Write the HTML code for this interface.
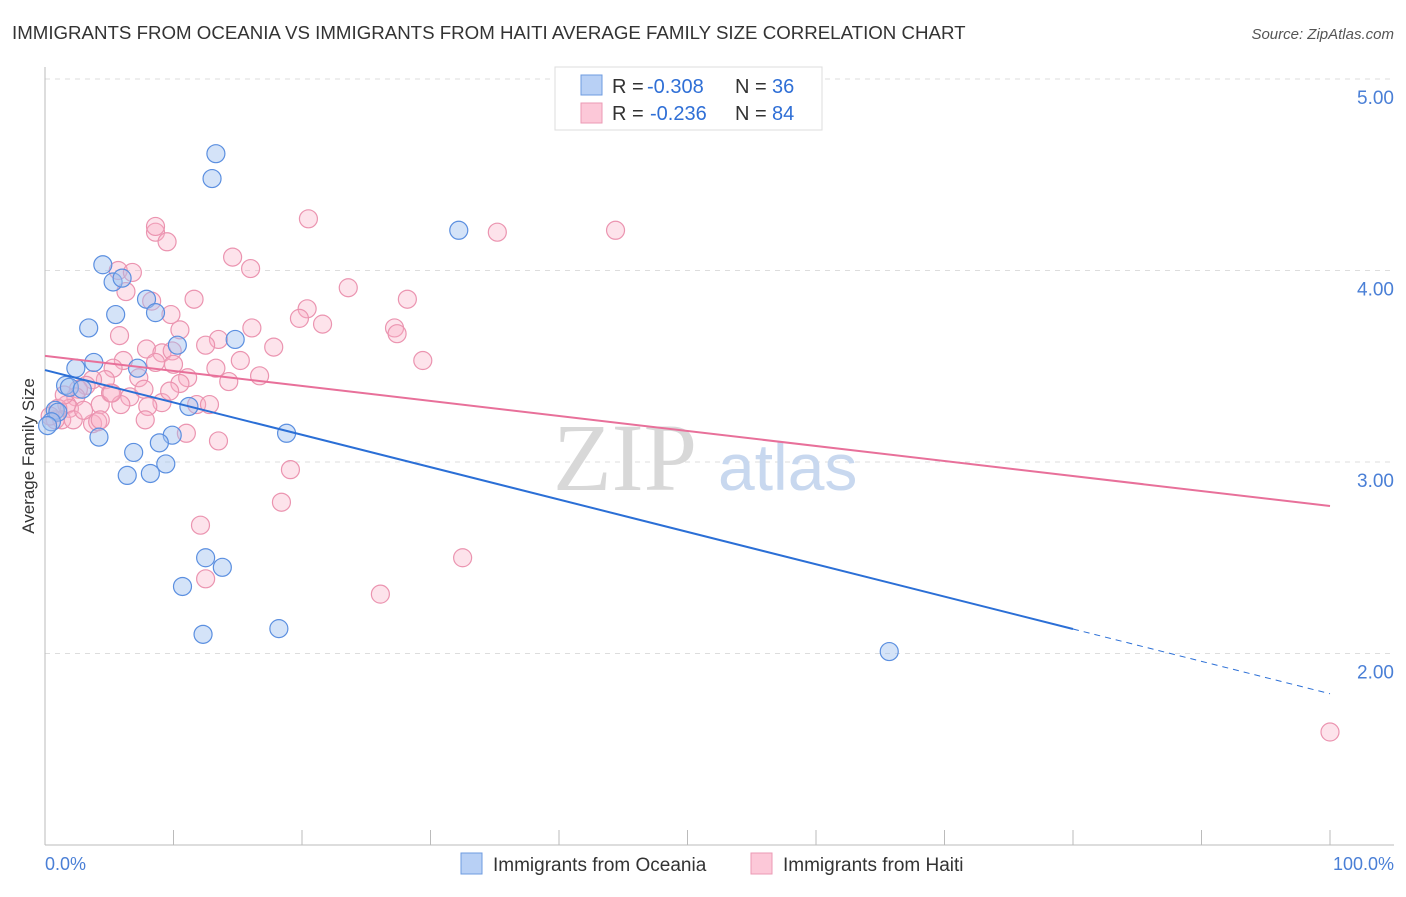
<!DOCTYPE html>
<html><head><meta charset="utf-8"><style>
body{margin:0;background:#fff;font-family:"Liberation Sans",sans-serif}
</style></head><body>
<svg id="chart" width="1406" height="892" xmlns="http://www.w3.org/2000/svg" font-family="Liberation Sans, sans-serif">
<text x="12" y="39" font-size="18.7" fill="#333">IMMIGRANTS FROM OCEANIA VS IMMIGRANTS FROM HAITI AVERAGE FAMILY SIZE CORRELATION CHART</text>
<text x="1394" y="39" font-size="15" fill="#555" font-style="italic" text-anchor="end">Source: ZipAtlas.com</text>
<g id="grid"></g>
<text x="553" y="490" font-size="96" font-family="Liberation Serif, serif" fill="#d8d8d8">ZIP</text>
<text x="718" y="490" font-size="66" fill="#c8d8ef">atlas</text>
<g id="marks"></g>
<text transform="translate(34,456) rotate(-90)" text-anchor="middle" font-size="17" fill="#333">Average Family Size</text>
<text x="45" y="870" font-size="18" fill="#4a7fd6">0.0%</text>
<text x="1394" y="870" font-size="18" fill="#4a7fd6" text-anchor="end">100.0%</text>
<g>
<rect x="555" y="67" width="267" height="63" fill="#fff" stroke="#ddd"/>
<rect x="581" y="75" width="21" height="20" fill="#b8d0f5" stroke="#6e9be0"/>
<rect x="581" y="103" width="21" height="20" fill="#fcc8d8" stroke="#eb9ab4"/>
<text y="93" font-size="20" fill="#333"><tspan x="612">R =</tspan><tspan x="647" fill="#2f6fd6">-0.308</tspan><tspan x="735">N =</tspan><tspan x="772" fill="#2f6fd6">36</tspan></text>
<text y="120" font-size="20" fill="#333"><tspan x="612">R =</tspan><tspan x="650" fill="#2f6fd6">-0.236</tspan><tspan x="735">N =</tspan><tspan x="772" fill="#2f6fd6">84</tspan></text>
</g>
<g>
<rect x="461" y="853" width="21" height="21" fill="#b8d0f5" stroke="#6e9be0"/>
<text x="493" y="871" font-size="19" fill="#333">Immigrants from Oceania</text>
<rect x="751" y="853" width="21" height="21" fill="#fcc8d8" stroke="#eb9ab4"/>
<text x="783" y="871" font-size="19" fill="#333">Immigrants from Haiti</text>
</g>
</svg>
<script>
const yTicks=[2,3,4,5];
const yTickLabels=["2.00","3.00","4.00","5.00"];
const blueX=[13.3,13.0,32.2,4.5,5.3,6.0,7.9,8.6,5.5,3.4,14.8,10.3,3.8,2.4,7.2,1.6,1.9,2.9,0.8,1.0,0.5,0.2,11.2,18.8,4.2,9.9,8.9,6.9,9.4,6.4,8.2,12.5,13.8,10.7,12.3,18.2,65.7];
const blueY=[4.61,4.48,4.21,4.03,3.94,3.96,3.85,3.78,3.77,3.70,3.64,3.61,3.52,3.49,3.49,3.40,3.39,3.38,3.27,3.26,3.21,3.19,3.29,3.15,3.13,3.14,3.10,3.05,2.99,2.93,2.94,2.50,2.45,2.35,2.10,2.13,2.01];
const pinkX=[8.6,9.5,8.6,20.5,35.2,44.4,5.7,6.8,16.0,14.6,6.3,8.3,11.6,23.6,28.2,9.8,20.4,19.8,21.6,10.5,5.8,16.1,27.2,27.4,13.5,12.5,7.9,9.1,9.9,17.8,6.1,15.2,29.4,8.6,10.0,13.3,5.3,16.7,11.1,7.3,4.7,3.7,14.3,10.5,3.2,2.6,5.1,6.6,9.1,8.0,5.9,4.3,2.4,1.7,1.9,1.0,1.3,2.2,3.7,4.1,7.8,11.8,12.8,11.0,13.5,19.1,18.4,12.1,12.5,32.5,26.1,100,0.8,0.4,1.5,3.0,7.7,5.2,9.7,4.3];
const pinkY=[4.20,4.15,4.23,4.27,4.20,4.21,4.00,3.99,4.01,4.07,3.89,3.84,3.85,3.91,3.85,3.77,3.80,3.75,3.72,3.69,3.66,3.70,3.70,3.67,3.64,3.61,3.59,3.57,3.58,3.60,3.53,3.53,3.53,3.52,3.51,3.49,3.49,3.45,3.44,3.44,3.43,3.43,3.42,3.41,3.40,3.38,3.36,3.34,3.31,3.29,3.30,3.30,3.34,3.30,3.28,3.28,3.22,3.22,3.20,3.21,3.22,3.30,3.30,3.15,3.11,2.96,2.79,2.67,2.39,2.50,2.31,1.59,3.22,3.24,3.35,3.27,3.38,3.36,3.37,3.22];
const blueTrend=[3.48,1.79];
const pinkTrend=[3.554,2.77];
const NS="http://www.w3.org/2000/svg";
const xs=v=>45+v*12.85;
const ys=v=>79+(5-v)*191.5;
function mk(t,a,p){const e=document.createElementNS(NS,t);for(const k in a)e.setAttribute(k,a[k]);p.appendChild(e);return e;}
const grid=document.getElementById('grid'),marks=document.getElementById('marks');
yTicks.forEach((t,i)=>{
 const g=mk('line',{x1:45,x2:1394,y1:ys(t),y2:ys(t),stroke:'#ddd','stroke-dasharray':'5,5'},grid);
 
 
 const l=mk('text',{x:1394,y:ys(t)+25,'font-size':19,fill:'#4a7fd6','text-anchor':'end'},grid);
 l.textContent=yTickLabels[i];
 
 
});
const ax=mk('line',{x1:45,x2:45,y1:67,y2:845,stroke:'#bbb'},grid);


const bx=mk('line',{x1:45,x2:1394,y1:845,y2:845,stroke:'#bbb'},grid);


for(let i=0;i<=10;i++){
 const t=mk('line',{x1:xs(i*10),x2:xs(i*10),y1:830,y2:845,stroke:'#bbb'},grid);
 
 
}
function pts(X,Y,fill,stroke,name){
 X.forEach((x,i)=>{
  const c=mk('circle',{cx:xs(x),cy:ys(Y[i]),r:9,fill:fill,stroke:stroke,'stroke-width':1.2},marks);
  
  
 });
}
pts(pinkX,pinkY,'rgba(248,175,198,0.35)','#eb94b0','haiti-point');
pts(blueX,blueY,'rgba(160,192,240,0.45)','#5b8fe0','oceania-point');
const bAt=x=>blueTrend[0]+(blueTrend[1]-blueTrend[0])*x/100;
const pAt=x=>pinkTrend[0]+(pinkTrend[1]-pinkTrend[0])*x/100;
const l1=mk('line',{x1:xs(0),y1:ys(bAt(0)),x2:xs(80),y2:ys(bAt(80)),stroke:'#2b6fd6','stroke-width':2},marks);


const l2=mk('line',{x1:xs(80),y1:ys(bAt(80)),x2:xs(100),y2:ys(bAt(100)),stroke:'#2b6fd6','stroke-width':1,'stroke-dasharray':'6,5'},marks);


const l3=mk('line',{x1:xs(0),y1:ys(pAt(0)),x2:xs(100),y2:ys(pAt(100)),stroke:'#e8709a','stroke-width':2},marks);


</script>
</body></html>
